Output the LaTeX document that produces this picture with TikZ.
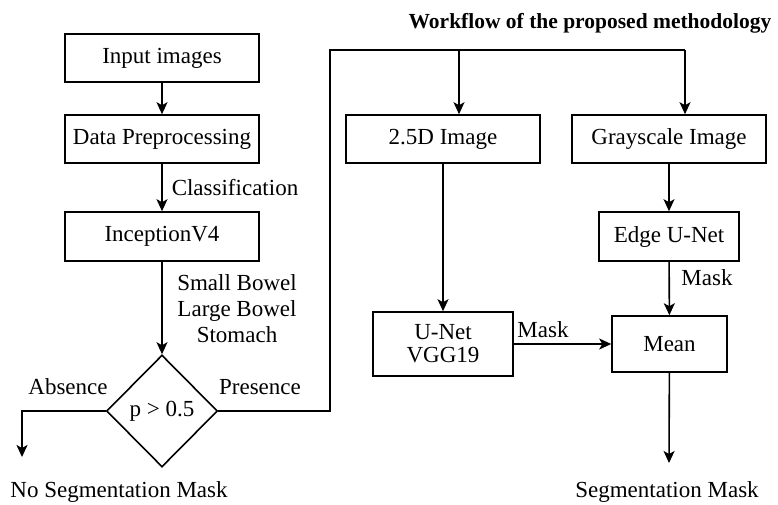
\documentclass[tikz,border=0pt]{standalone}
\usepackage{fontspec}
\setmainfont{Liberation Serif}
\usetikzlibrary{shapes.geometric,arrows.meta}
\begin{document}
\begin{tikzpicture}[x=1pt,y=-1pt,
  font=\fontsize{23}{26}\selectfont,
  box/.style={draw,line width=1.6pt,rectangle,inner sep=0pt,align=center},
  dec/.style={draw,line width=1.6pt,diamond,inner sep=0pt,minimum width=111pt,minimum height=112pt},
  conn/.style={line width=1.6pt},
  arr/.style={line width=1.6pt,-{Stealth[length=12pt,width=11pt,inset=3pt]}},
  lbl/.style={inner sep=0pt,align=center}]
\useasboundingbox (0,0) rectangle (778,504);
\fill[white] (0,0) rectangle (778,504);
% title
\node[lbl,font=\fontsize{21.5}{25}\selectfont\bfseries] (title) at (590,23) {Workflow of the proposed methodology};
% left column
\node[box,minimum width=194pt,minimum height=48pt] (inp) at (162,58) {Input images};
\node[box,minimum width=194pt,minimum height=48pt] (dp) at (162,139) {Data Preprocessing};
\node[box,minimum width=194pt,minimum height=49pt] (inc) at (162,236.5) {InceptionV4};
\node[dec] (dia) at (162,411) {p > 0.5};
% right part
\node[box,minimum width=194pt,minimum height=48pt] (d25) at (443,139) {2.5D Image};
\node[box,minimum width=194pt,minimum height=48pt] (gray) at (669,139) {Grayscale Image};
\node[box,minimum width=140pt,minimum height=49pt] (edge) at (669,236.5) {Edge U-Net};
\node[box,minimum width=140pt,minimum height=64pt] (unet) at (443,344) {U-Net\\[-3pt]VGG19};
\node[box,minimum width=115pt,minimum height=56pt] (mean) at (669.5,344) {Mean};
% coordinates
\coordinate (c1) at (330,50);
\coordinate (a1) at (459,50);
\coordinate (a2) at (685,50);
\coordinate (absEnd) at (22,457);
\coordinate (segEnd) at (669,463);
% outputs
\node[lbl] (noseg) at (119,492) {No Segmentation Mask};
\node[lbl] (seg) at (667,492) {Segmentation Mask};
% connectors
\draw[arr] (inp) -- (dp);
\draw[arr] (dp) -- (inc);
\node[lbl] (cls) at (235,188) {Classification};
\draw[arr] (inc) -- (dia);
\node[lbl] (organs) at (237,309) {Small Bowel\\Large Bowel\\Stomach};
\draw[arr] (dia.west) -| (absEnd);
\node[lbl] (abs) at (68,387) {Absence};
\draw[conn] (dia.east) -| (c1) -- (a2);
\node[lbl] (pres) at (260,387) {Presence};
\draw[arr] (a1) -- (a1 |- d25.north);
\draw[arr] (a2) -- (a2 |- gray.north);
\draw[arr] (d25) -- (unet);
\draw[arr] (gray) -- (edge);
\draw[arr] (edge) -- (mean);
\node[lbl] (m1) at (707,278) {Mask};
\draw[arr] (unet) -- (mean);
\node[lbl] (m2) at (543,330) {Mask};
\draw[arr] (mean) -- (segEnd);
\end{tikzpicture}
\end{document}
